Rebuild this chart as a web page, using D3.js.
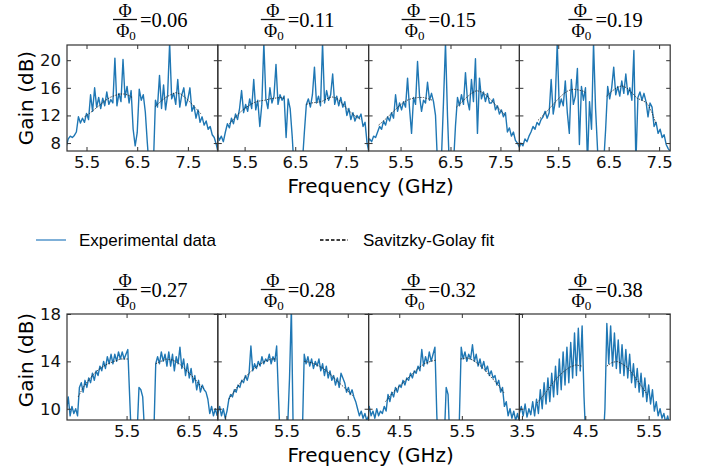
<!DOCTYPE html>
<html>
<head>
<meta charset="utf-8">
<script src="https://cdn.jsdelivr.net/npm/d3@7"></script>
<style>
  body { margin: 0; background: #fff; }
  svg { display: block; }
</style>
</head>
<body>
<svg id="chart" width="701" height="472"></svg>
<script>
// flux values for each panel title
const phiLabels = ["0.06", "0.11", "0.15", "0.19", "0.27", "0.28", "0.32", "0.38"];

// measured gain (dB), sampled from start freq with fixed step (GHz)
const gain006 = [7.5, 8.6, 9.0, 8.8, 9.1, 9.6, 11.8, 10.9, 11.6, 11.0, 12.3, 11.4, 15.0, 12.6, 16.0, 13.2,
  14.6, 13.0, 14.5, 13.4, 15.4, 13.6, 14.3, 13.8, 20.3, 13.4, 15.2, 14.0, 20.1, 14.6, 16.2, 13.8, 15.6,
  10.0, 7.6, 9.5, 15.8, 14.2, 15.0, 12.5, 8.0, 4.0, 3.0, 5.0, 14.2, 13.2, 17.8, 13.0, 16.4, 12.8, 15.0,
  22.5, 14.4, 15.2, 13.6, 17.2, 13.2, 15.0, 16.0, 13.4, 14.4, 16.0, 12.6, 13.4, 11.6, 12.8, 11.0, 11.8,
  10.6, 11.2, 10.0, 10.4, 9.2, 8.8, 7.8, 6.5];
const gain011 = [9.4, 8.4, 9.0, 8.2, 9.6, 10.8, 10.2, 11.6, 10.8, 12.2, 11.4, 13.0, 15.6, 12.4, 13.6, 12.6,
  14.4, 13.0, 17.2, 12.8, 14.2, 10.4, 13.6, 22.5, 14.4, 13.0, 16.0, 13.8, 14.8, 19.4, 13.6, 15.0, 14.2,
  14.8, 8.8, 14.4, 13.0, 9.0, 4.0, 3.0, 6.5, 3.5, 5.0, 9.5, 13.6, 14.4, 13.2, 15.0, 19.0, 13.8, 14.8,
  13.4, 22.5, 13.8, 15.6, 14.2, 15.0, 18.0, 13.6, 14.8, 13.4, 14.6, 13.2, 14.0, 12.0, 13.0, 11.4, 12.4,
  11.2, 12.0, 11.6, 12.2, 10.4, 11.0, 8.0, 6.5];
const gain015 = [8.0, 8.6, 8.2, 9.0, 8.8, 9.6, 10.4, 10.0, 11.2, 10.6, 11.8, 11.2, 12.4, 11.6, 15.0, 12.6,
  13.8, 12.8, 14.0, 13.2, 17.4, 13.0, 9.4, 14.6, 13.6, 19.8, 14.8, 12.6, 14.2, 13.8, 16.8, 14.2, 15.2,
  14.0, 12.0, 5.0, 3.0, 6.0, 14.0, 22.5, 12.0, 4.0, 3.0, 5.0, 10.5, 14.6, 13.4, 15.0, 13.6, 18.2, 14.2,
  12.8, 17.2, 14.0, 20.2, 9.4, 17.4, 14.4, 15.4, 14.0, 15.2, 13.8, 13.8, 14.4, 12.8, 13.4, 12.2, 12.8,
  11.8, 12.4, 9.6, 10.2, 9.0, 9.6, 8.4, 8.0, 7.4, 6.8];
const gain019 = [7.2, 8.0, 7.6, 8.6, 8.2, 9.0, 9.6, 10.4, 10.0, 11.0, 10.6, 11.4, 11.8, 12.6, 11.6, 12.4,
  17.2, 12.2, 14.0, 22.5, 13.2, 14.4, 13.4, 17.0, 12.4, 9.4, 17.2, 13.6, 14.8, 18.8, 7.8, 16.2, 14.2,
  16.0, 5.0, 14.0, 10.0, 22.5, 13.0, 7.0, 4.0, 3.0, 5.0, 10.0, 16.2, 14.4, 16.0, 19.0, 15.0, 16.2, 14.8,
  17.0, 15.2, 18.0, 15.0, 16.0, 14.2, 21.4, 5.0, 14.6, 15.4, 14.2, 15.2, 14.0, 11.8, 13.8, 13.2, 10.4,
  11.0, 9.4, 10.0, 8.8, 9.2, 7.8, 7.2, 6.8];
const gain027 = [9.8, 11.0, 9.4, 10.2, 9.6, 10.0, 9.4, 11.8, 12.2, 11.4, 12.4, 11.8, 12.6, 12.2, 13.0, 12.4,
  13.2, 12.8, 13.6, 13.2, 14.0, 13.4, 14.4, 13.8, 14.6, 13.8, 14.6, 14.0, 14.8, 14.2, 14.8, 14.2, 14.6,
  15.0, 11.0, 7.0, 6.0, 6.5, 8.0, 11.8, 11.6, 11.0, 8.0, 6.0, 5.5, 6.0, 6.5, 8.0, 13.8, 14.4, 13.8, 14.8,
  14.0, 14.6, 13.6, 14.8, 13.6, 14.6, 13.2, 14.4, 13.8, 15.2, 13.4, 14.2, 12.8, 13.8, 12.6, 13.4, 12.2,
  12.8, 11.6, 12.4, 11.4, 12.0, 11.6, 11.4, 10.8, 9.6, 10.2, 9.4, 10.0, 9.4];
const gain028 = [9.6, 10.2, 9.4, 10.0, 9.2, 9.8, 10.8, 11.2, 11.0, 11.6, 11.4, 12.0, 11.8, 12.4, 12.2, 12.8,
  12.4, 13.0, 15.3, 13.2, 13.8, 13.4, 14.0, 13.6, 14.4, 13.8, 14.2, 14.0, 14.6, 13.8, 14.4, 14.0, 15.3,
  11.0, 7.0, 6.0, 6.5, 7.0, 8.5, 12.6, 18.5, 8.0, 6.0, 5.5, 6.0, 6.5, 8.0, 14.6, 13.8, 14.4, 13.6, 14.2,
  13.4, 14.0, 13.6, 14.2, 13.2, 13.8, 12.8, 13.6, 12.6, 13.2, 12.4, 12.8, 12.0, 12.6, 11.8, 13.0, 12.6,
  12.2, 11.4, 11.8, 11.2, 11.6, 11.0, 10.6, 10.0, 9.4, 9.8, 9.2, 9.6, 9.0, 9.4, 8.8];
const gain032 = [9.2, 10.2, 9.4, 9.8, 9.2, 10.0, 9.4, 9.8, 9.6, 10.2, 9.8, 11.2, 10.6, 11.4, 11.0, 11.8,
  11.4, 12.0, 11.8, 12.4, 12.0, 12.6, 12.4, 13.0, 12.6, 13.2, 13.0, 13.6, 13.2, 15.0, 13.6, 14.4, 13.8,
  14.8, 14.0, 14.6, 15.2, 9.5, 6.0, 5.5, 6.0, 7.5, 11.8, 11.2, 7.0, 6.0, 5.5, 6.0, 7.0, 9.0, 15.2, 14.2,
  14.8, 14.0, 14.6, 14.2, 15.4, 14.0, 14.6, 13.6, 14.2, 13.4, 14.0, 13.2, 13.6, 12.8, 13.2, 12.6, 12.8,
  12.0, 12.4, 11.4, 11.8, 10.2, 10.6, 9.4, 10.0, 9.2, 9.8, 9.0, 9.6, 8.8, 9.4, 8.6];
const gain038 = [9.6, 10.2, 9.4, 10.4, 9.3, 10.0, 9.5, 10.6, 9.4, 10.8, 9.6, 11.6, 10.0, 12.2, 10.4, 12.6,
  10.6, 13.0, 11.0, 13.6, 11.2, 14.2, 11.6, 14.8, 12.0, 15.2, 12.2, 15.6, 12.6, 16.4, 12.8, 16.8, 13.2,
  17.0, 11.0, 7.0, 5.0, 4.5, 5.0, 5.5, 5.0, 4.5, 5.0, 5.5, 7.0, 10.0, 17.2, 13.8, 17.0, 13.6, 16.4, 13.4,
  15.8, 13.0, 15.4, 12.8, 15.0, 12.6, 14.6, 12.2, 13.8, 11.8, 13.4, 11.4, 13.0, 11.0, 12.6, 10.6, 12.0,
  10.4, 11.6, 9.8, 10.6, 9.4, 10.0, 9.2, 9.6, 8.8, 9.4, 8.6, 9.0];
const gainSeries = [gain006, gain011, gain015, gain019, gain027, gain028, gain032, gain038];
const startFreq = [5.10, 4.96, 4.84, 4.72, 4.53, 4.38, 3.99, 3.46];
const stepFreq = [0.04, 0.04, 0.04, 0.04, 0.03, 0.03, 0.03, 0.03];

// Savitzky-Golay fit, two lobes per panel, [freq, gain]
const fit006 = [[[5.46, 11.8], [5.56, 12.3], [5.66, 12.9], [5.76, 13.5], [5.86, 14.1], [5.96, 14.6], [6.06, 14.9], [6.16, 15.1], [6.26, 15.1], [6.36, 14.8], [6.40, 14.6]],
  [[6.86, 13.3], [6.96, 14.0], [7.06, 14.6], [7.16, 15.0], [7.26, 15.3], [7.36, 15.1], [7.46, 14.5], [7.56, 13.8], [7.66, 13.0], [7.76, 12.2]]];
const fit011 = [[[5.20, 10.8], [5.30, 11.6], [5.40, 12.4], [5.50, 13.0], [5.60, 13.5], [5.70, 13.9], [5.80, 14.1], [5.90, 14.2], [6.00, 14.4], [6.10, 14.5], [6.20, 14.6], [6.28, 14.5]],
  [[6.72, 13.6], [6.82, 13.8], [6.92, 13.9], [7.02, 14.0], [7.12, 14.4], [7.22, 14.7], [7.32, 14.5], [7.42, 13.8], [7.52, 13.0], [7.62, 12.3], [7.72, 11.7], [7.80, 11.4]]];
const fit015 = [[[5.06, 10.6], [5.16, 11.2], [5.26, 11.9], [5.36, 12.6], [5.46, 13.3], [5.56, 13.9], [5.66, 14.3], [5.76, 14.5], [5.86, 14.6], [5.96, 14.6], [6.06, 14.4], [6.14, 14.2]],
  [[6.62, 13.2], [6.72, 13.9], [6.82, 14.6], [6.92, 15.2], [7.02, 15.6], [7.12, 15.4], [7.22, 14.9], [7.32, 14.2], [7.42, 13.4], [7.52, 12.6], [7.60, 12.0]]];
const fit019 = [[[5.10, 11.3], [5.20, 12.0], [5.30, 12.8], [5.40, 13.6], [5.50, 14.4], [5.60, 15.1], [5.70, 15.6], [5.80, 15.8], [5.90, 15.7], [6.00, 15.5], [6.04, 15.3]],
  [[6.46, 14.8], [6.56, 15.5], [6.66, 16.0], [6.76, 16.3], [6.86, 16.0], [6.96, 15.3], [7.06, 14.5], [7.16, 14.2], [7.26, 13.8], [7.36, 12.4], [7.44, 10.8]]];
const fit027 = [[[4.72, 11.0], [4.80, 11.8], [4.90, 12.5], [5.00, 13.1], [5.10, 13.5], [5.20, 13.8], [5.30, 14.0], [5.40, 14.2], [5.53, 14.2]],
  [[5.97, 13.8], [6.05, 14.0], [6.15, 14.2], [6.25, 14.1], [6.35, 13.8], [6.45, 13.3], [6.55, 12.8], [6.65, 12.2], [6.74, 11.7]]];
const fit028 = [[[4.56, 10.8], [4.65, 11.5], [4.75, 12.2], [4.85, 12.8], [4.95, 13.3], [5.05, 13.7], [5.15, 14.0], [5.25, 14.2], [5.34, 14.2]],
  [[5.79, 14.0], [5.90, 13.9], [6.00, 13.7], [6.10, 13.4], [6.20, 13.0], [6.30, 12.5], [6.40, 12.0], [6.50, 11.5], [6.58, 11.1]]];
const fit032 = [[[4.28, 10.6], [4.40, 11.4], [4.50, 11.9], [4.60, 12.4], [4.70, 12.9], [4.80, 13.4], [4.90, 13.8], [5.00, 14.0], [5.08, 14.1]],
  [[5.48, 14.2], [5.58, 14.3], [5.68, 14.1], [5.78, 13.7], [5.88, 13.2], [5.98, 12.6], [6.08, 12.0], [6.18, 11.3]]];
const fit038 = [[[3.74, 10.5], [3.85, 11.2], [3.95, 11.9], [4.05, 12.6], [4.15, 13.1], [4.25, 13.5], [4.35, 13.7], [4.45, 13.6]],
  [[4.84, 13.6], [4.92, 13.9], [5.00, 14.0], [5.08, 13.8], [5.16, 13.5], [5.24, 13.0], [5.32, 12.4], [5.40, 11.8], [5.48, 11.2]]];
const fitSeries = [fit006, fit011, fit015, fit019, fit027, fit028, fit032, fit038];

// axis ranges and ticks
const xDomains = [[5.115, 8.09], [4.97, 7.95], [4.86, 7.88], [4.73, 7.72],
                  [4.54, 6.97], [4.38, 6.84], [4.01, 6.42], [3.46, 5.84]];
const xTicks = [5.5, 6.5, 7.5, 3.5, 4.5];
const yDomains = [[6.85, 22.2], [9.05, 18.0]];
const yTicks = [[8, 12, 16, 20], [10, 14, 18]];

const svg = d3.select("#chart");
const left = 67, pw = 150.8, ph = 106;
const rowTop = [45, 314];
const titleDx = [46, 43, 33, 49];
const sans = "'DejaVu Sans', Verdana, sans-serif";
const blue = "#1f77b4";

svg.append("defs");

gainSeries.forEach((gains, i) => {
    const row = Math.floor(i / 4), col = i % 4;
    const x0 = left + col * pw, y0 = rowTop[row];

    const x = d3.scaleLinear().domain(xDomains[i]).range([0, pw]);
    const y = d3.scaleLinear().domain(yDomains[row]).range([ph, 0]);

    const g = svg.append("g").attr("transform", `translate(${x0},${y0})`);

    svg.select("defs").append("clipPath").attr("id", "clip" + i)
        .append("rect").attr("width", pw).attr("height", ph);

    const ticksIn = xTicks.filter(t => t >= xDomains[i][0] && t <= xDomains[i][1]).sort();

    const plot = g.append("g").attr("clip-path", `url(#clip${i})`);

    const pts = gains.map((v, k) => [startFreq[i] + k * stepFreq[i], v]);
    const line = d3.line().x(d => x(d[0])).y(d => y(d[1]));

    plot.append("path")
        .attr("d", line(pts))
        .attr("fill", "none")
        .attr("stroke", blue)
        .attr("stroke-width", 1.4)
        .attr("stroke-linejoin", "round");

    fitSeries[i].forEach(seg => {
        plot.append("path")
            .attr("d", line(seg))
            .attr("fill", "none")
            .attr("stroke", "#222")
            .attr("stroke-width", 0.8)
            .attr("stroke-dasharray", "1.5,1.2");
    });

    // inward ticks on all four sides
    g.append("g").attr("transform", `translate(0,${ph})`)
        .call(d3.axisBottom(x).tickValues(ticksIn).tickSize(-4).tickPadding(5).tickFormat(d3.format(".1f")));
    g.append("g").call(d3.axisTop(x).tickValues(ticksIn).tickSize(-4).tickFormat(""));
    g.append("g")
        .call(d3.axisLeft(y).tickValues(yTicks[row]).tickSize(-4).tickPadding(6).tickFormat(col === 0 ? d3.format("d") : ""));
    g.append("g").attr("transform", `translate(${pw},0)`)
        .call(d3.axisRight(y).tickValues(yTicks[row]).tickSize(-4).tickFormat(""));

    g.selectAll(".domain").remove();
    g.selectAll(".tick line").attr("stroke", "#333").attr("stroke-width", 1);
    g.selectAll(".tick text").attr("font-family", sans).attr("font-size", 16.5).attr("fill", "#111");

    g.append("rect")
        .attr("width", pw).attr("height", ph)
        .attr("fill", "none")
        .attr("stroke", "#333")
        .attr("stroke-width", 1.2);

    // title: Phi / Phi_0 = value
    const tx = x0 + titleDx[col];
    const ty = row === 0 ? 19.5 : 289.5;
    const serif = "'Liberation Serif', 'Times New Roman', serif";
    svg.append("line")
        .attr("x1", tx).attr("x2", tx + 24)
        .attr("y1", ty).attr("y2", ty)
        .attr("stroke", "#111").attr("stroke-width", 1.3);
    svg.append("text")
        .attr("x", tx + 12).attr("y", ty - 2.5)
        .attr("text-anchor", "middle")
        .attr("font-family", serif).attr("font-size", 18)
        .text("Φ");
    const den = svg.append("text")
        .attr("x", tx + 13).attr("y", ty + 17)
        .attr("text-anchor", "middle")
        .attr("font-family", serif).attr("font-size", 18);
    den.append("tspan").text("Φ");
    den.append("tspan").attr("font-size", 13).attr("dy", 3).text("0");
    svg.append("text")
        .attr("x", tx + 27).attr("y", ty + 7.5)
        .attr("font-family", serif).attr("font-size", 20.5)
        .text("=" + phiLabels[i]);
});

// axis labels
[0, 1].forEach(row => {
    svg.append("text")
        .attr("x", left + 2 * pw + 2)
        .attr("y", rowTop[row] + ph + 42)
        .attr("text-anchor", "middle")
        .attr("font-family", sans).attr("font-size", 20)
        .text("Frequency (GHz)");
    svg.append("text")
        .attr("transform", `translate(33,${row === 0 ? 98 : 360}) rotate(-90)`)
        .attr("text-anchor", "middle")
        .attr("font-family", sans).attr("font-size", 20)
        .text("Gain (dB)");
});

// legend
const legend = svg.append("g").attr("font-family", "'Liberation Sans', Arial, sans-serif").attr("font-size", 17);
legend.append("line").attr("x1", 36).attr("x2", 66).attr("y1", 240).attr("y2", 240)
    .attr("stroke", "#7fb0d8").attr("stroke-width", 2);
legend.append("text").attr("x", 79).attr("y", 246).text("Experimental data");
legend.append("line").attr("x1", 320).attr("x2", 348).attr("y1", 240).attr("y2", 240)
    .attr("stroke", "#000").attr("stroke-width", 1.3).attr("stroke-dasharray", "3.5,2");
legend.append("text").attr("x", 363).attr("y", 246).text("Savitzky-Golay fit");
</script>
</body>
</html>
